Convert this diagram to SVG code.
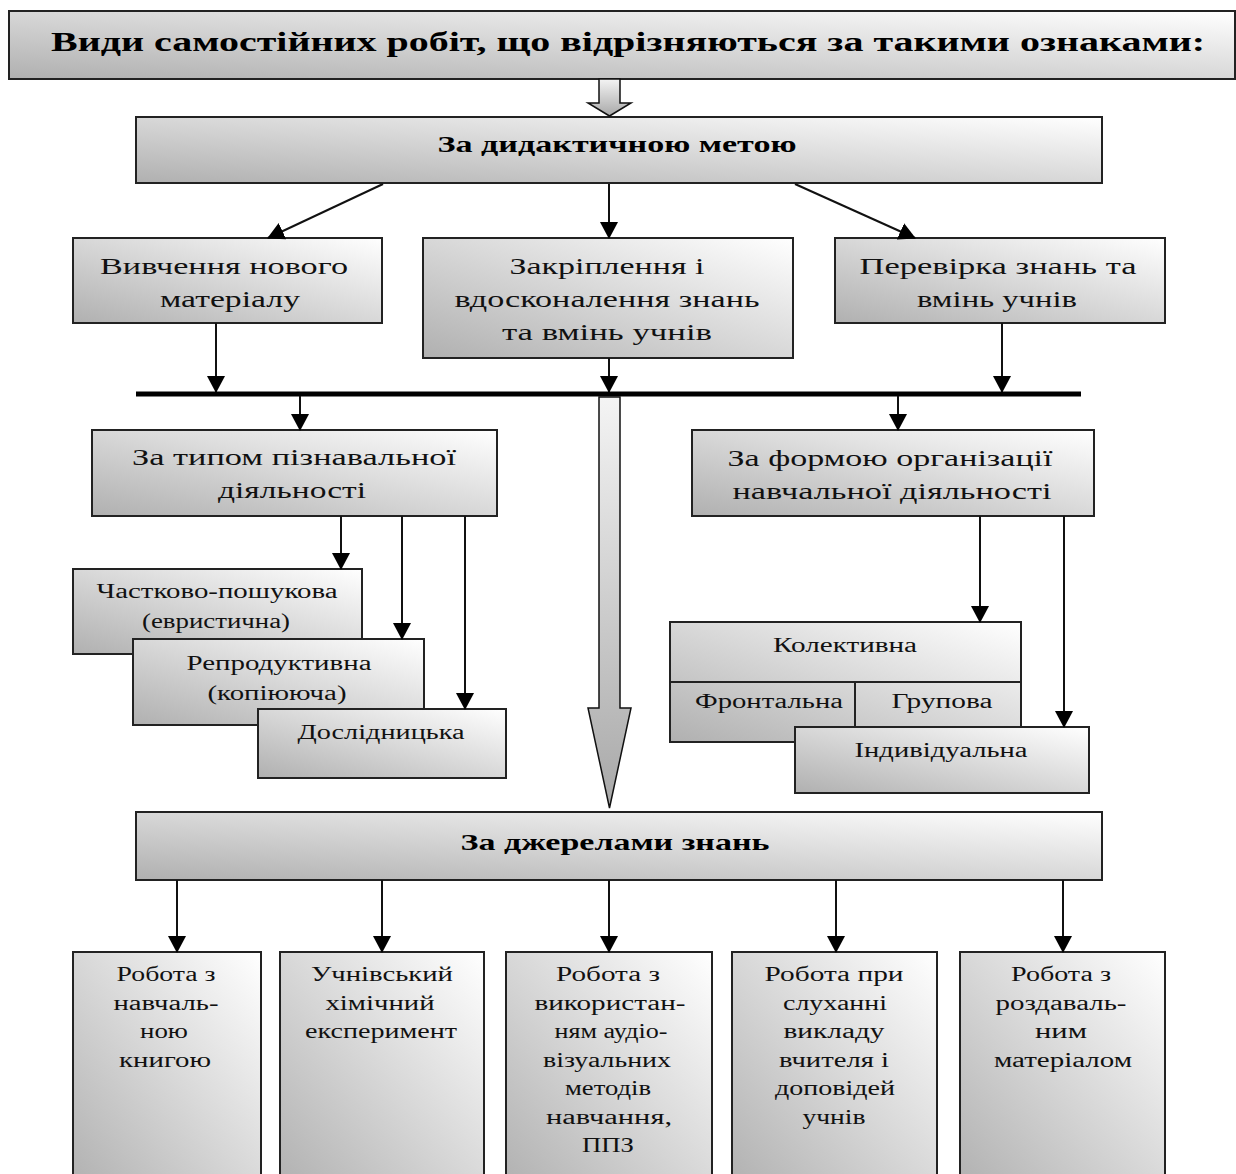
<svg xmlns="http://www.w3.org/2000/svg" width="1236" height="1174" viewBox="0 0 1236 1174">
<style>
.box{stroke:#222;stroke-width:2;fill:url(#g)}
.t{font-family:"Liberation Serif","Times New Roman",serif;font-size:23px;fill:#111;text-anchor:middle}
.s{font-family:"Liberation Serif","Times New Roman",serif;font-size:20px;fill:#111;text-anchor:middle}
.b{font-family:"Liberation Serif","Times New Roman",serif;font-weight:bold;fill:#000;text-anchor:middle}
.c{stroke:#111;stroke-width:2;fill:none;marker-end:url(#ah)}
.bus{stroke:#000;stroke-width:5}
.hollow{stroke:#111;stroke-width:1.5;fill:url(#ga)}
</style>
<defs>
<linearGradient id="g" x1="0" y1="1" x2="1" y2="0">
<stop offset="0" stop-color="#b0b0b0"/>
<stop offset="1" stop-color="#ffffff"/>
</linearGradient>
<linearGradient id="ga" x1="0" y1="0" x2="0" y2="1">
<stop offset="0" stop-color="#f4f4f4"/>
<stop offset="1" stop-color="#a8a8a8"/>
</linearGradient>
<marker id="ah" markerUnits="userSpaceOnUse" markerWidth="17" markerHeight="18" viewBox="0 0 17 18" refX="16" refY="9" orient="auto">
<path d="M0,0 L17,9 L0,18 z" fill="#000"/>
</marker>
</defs>

<g id="title">
<rect class="box" x="9" y="11" width="1226" height="68"/>
<text class="b" x="628" y="51" font-size="28" textLength="1154" lengthAdjust="spacingAndGlyphs">Види самостійних робіт, що відрізняються за такими ознаками:</text>
</g>

<g id="didactic">
<rect class="box" x="136" y="117" width="966" height="66"/>
<text class="b" x="617" y="152" font-size="23" textLength="359" lengthAdjust="spacingAndGlyphs">За дидактичною метою</text>
</g>

<g id="study">
<rect class="box" x="73" y="238" width="309" height="85"/>
<text class="t" x="224" y="274" textLength="248" lengthAdjust="spacingAndGlyphs">Вивчення нового</text>
<text class="t" x="230" y="307" textLength="140" lengthAdjust="spacingAndGlyphs">матеріалу</text>
</g>

<g id="consolidation">
<rect class="box" x="423" y="238" width="370" height="120"/>
<text class="t" x="607" y="274" textLength="195" lengthAdjust="spacingAndGlyphs">Закріплення і</text>
<text class="t" x="607" y="307" textLength="305" lengthAdjust="spacingAndGlyphs">вдосконалення знань</text>
<text class="t" x="607" y="340" textLength="210" lengthAdjust="spacingAndGlyphs">та вмінь учнів</text>
</g>

<g id="check">
<rect class="box" x="835" y="238" width="330" height="85"/>
<text class="t" x="998" y="274" textLength="277" lengthAdjust="spacingAndGlyphs">Перевірка знань та</text>
<text class="t" x="997" y="307" textLength="160" lengthAdjust="spacingAndGlyphs">вмінь учнів</text>
</g>

<g id="cognitive">
<rect class="box" x="92" y="430" width="405" height="86"/>
<text class="t" x="294" y="465" textLength="324" lengthAdjust="spacingAndGlyphs">За типом пізнавальної</text>
<text class="t" x="292" y="498" textLength="148" lengthAdjust="spacingAndGlyphs">діяльності</text>
</g>

<g id="form">
<rect class="box" x="692" y="430" width="402" height="86"/>
<text class="t" x="890" y="466" textLength="325" lengthAdjust="spacingAndGlyphs">За формою організації</text>
<text class="t" x="892" y="499" textLength="319" lengthAdjust="spacingAndGlyphs">навчальної діяльності</text>
</g>

<g id="partial">
<rect class="box" x="73" y="569" width="289" height="85"/>
<text class="s" x="217" y="598" textLength="241" lengthAdjust="spacingAndGlyphs">Частково-пошукова</text>
<text class="s" x="216" y="628" textLength="148" lengthAdjust="spacingAndGlyphs">(евристична)</text>
</g>

<g id="reproductive">
<rect class="box" x="133" y="639" width="291" height="86"/>
<text class="s" x="279" y="670" textLength="185" lengthAdjust="spacingAndGlyphs">Репродуктивна</text>
<text class="s" x="277" y="700" textLength="139" lengthAdjust="spacingAndGlyphs">(копіююча)</text>
</g>

<g id="research">
<rect class="box" x="258" y="709" width="248" height="69"/>
<text class="s" x="381" y="739" textLength="167" lengthAdjust="spacingAndGlyphs">Дослідницька</text>
</g>

<g id="collective">
<rect class="box" x="670" y="622" width="351" height="120"/>
<line x1="670" y1="682" x2="1021" y2="682" stroke="#222" stroke-width="2"/>
<line x1="855" y1="682" x2="855" y2="742" stroke="#222" stroke-width="2"/>
<text class="s" x="845" y="652" textLength="144" lengthAdjust="spacingAndGlyphs">Колективна</text>
<text class="s" x="769" y="708" textLength="148" lengthAdjust="spacingAndGlyphs">Фронтальна</text>
<text class="s" x="942" y="708" textLength="101" lengthAdjust="spacingAndGlyphs">Групова</text>
</g>

<g id="individual">
<rect class="box" x="795" y="727" width="294" height="66"/>
<text class="s" x="941" y="757" textLength="173" lengthAdjust="spacingAndGlyphs">Індивідуальна</text>
</g>

<g id="sources">
<rect class="box" x="136" y="812" width="966" height="68"/>
<text class="b" x="615" y="850" font-size="23" textLength="309" lengthAdjust="spacingAndGlyphs">За джерелами знань</text>
</g>

<g id="book">
<rect class="box" x="73" y="952" width="188" height="240"/>
<text class="s" x="166" y="981" textLength="99" lengthAdjust="spacingAndGlyphs">Робота з</text>
<text class="s" x="166" y="1009.5" textLength="105" lengthAdjust="spacingAndGlyphs">навчаль-</text>
<text class="s" x="164" y="1038" textLength="48" lengthAdjust="spacingAndGlyphs">ною</text>
<text class="s" x="165" y="1066.5" textLength="92" lengthAdjust="spacingAndGlyphs">книгою</text>
</g>

<g id="experiment">
<rect class="box" x="280" y="952" width="204" height="240"/>
<text class="s" x="382" y="981" textLength="142" lengthAdjust="spacingAndGlyphs">Учнівський</text>
<text class="s" x="380" y="1009.5" textLength="109" lengthAdjust="spacingAndGlyphs">хімічний</text>
<text class="s" x="381" y="1038" textLength="152" lengthAdjust="spacingAndGlyphs">експеримент</text>
</g>

<g id="audiovisual">
<rect class="box" x="506" y="952" width="206" height="240"/>
<text class="s" x="608" y="981" textLength="104" lengthAdjust="spacingAndGlyphs">Робота з</text>
<text class="s" x="610" y="1009.5" textLength="151" lengthAdjust="spacingAndGlyphs">використан-</text>
<text class="s" x="611" y="1038" textLength="113" lengthAdjust="spacingAndGlyphs">ням аудіо-</text>
<text class="s" x="607" y="1066.5" textLength="128" lengthAdjust="spacingAndGlyphs">візуальних</text>
<text class="s" x="608" y="1095" textLength="86" lengthAdjust="spacingAndGlyphs">методів</text>
<text class="s" x="609" y="1123.5" textLength="126" lengthAdjust="spacingAndGlyphs">навчання,</text>
<text class="s" x="608" y="1152" textLength="52" lengthAdjust="spacingAndGlyphs">ППЗ</text>
</g>

<g id="listening">
<rect class="box" x="732" y="952" width="205" height="240"/>
<text class="s" x="834" y="981" textLength="139" lengthAdjust="spacingAndGlyphs">Робота при</text>
<text class="s" x="835" y="1009.5" textLength="104" lengthAdjust="spacingAndGlyphs">слуханні</text>
<text class="s" x="834" y="1038" textLength="101" lengthAdjust="spacingAndGlyphs">викладу</text>
<text class="s" x="834" y="1066.5" textLength="110" lengthAdjust="spacingAndGlyphs">вчителя і</text>
<text class="s" x="835" y="1095" textLength="120" lengthAdjust="spacingAndGlyphs">доповідей</text>
<text class="s" x="834" y="1123.5" textLength="63" lengthAdjust="spacingAndGlyphs">учнів</text>
</g>

<g id="handout">
<rect class="box" x="960" y="952" width="205" height="240"/>
<text class="s" x="1061" y="981" textLength="100" lengthAdjust="spacingAndGlyphs">Робота з</text>
<text class="s" x="1061" y="1009.5" textLength="131" lengthAdjust="spacingAndGlyphs">роздаваль-</text>
<text class="s" x="1061" y="1038" textLength="52" lengthAdjust="spacingAndGlyphs">ним</text>
<text class="s" x="1063" y="1066.5" textLength="138" lengthAdjust="spacingAndGlyphs">матеріалом</text>
</g>

<g id="connectors">
<path class="hollow" d="M599,79 L620,79 L620,103 L631,103 L609.5,116 L588,103 L599,103 Z"/>
<line class="c" x1="383" y1="184" x2="268" y2="238"/>
<line class="c" x1="609" y1="184" x2="609" y2="238"/>
<line class="c" x1="795" y1="184" x2="915" y2="238"/>
<line class="c" x1="216" y1="323" x2="216" y2="392"/>
<line class="c" x1="609" y1="358" x2="609" y2="392"/>
<line class="c" x1="1002" y1="323" x2="1002" y2="392"/>
<line class="bus" x1="136" y1="394" x2="1081" y2="394"/>
<line class="c" x1="300" y1="396" x2="300" y2="430"/>
<line class="c" x1="898" y1="396" x2="898" y2="430"/>
<path class="hollow" d="M599,397 L620,397 L620,708 L631,708 L609.5,808 L588,708 L599,708 Z"/>
<line class="c" x1="341" y1="516" x2="341" y2="569"/>
<line class="c" x1="402" y1="516" x2="402" y2="639"/>
<line class="c" x1="465" y1="516" x2="465" y2="709"/>
<line class="c" x1="980" y1="516" x2="980" y2="622"/>
<line class="c" x1="1064" y1="516" x2="1064" y2="727"/>
<line class="c" x1="177" y1="880" x2="177" y2="952"/>
<line class="c" x1="382" y1="880" x2="382" y2="952"/>
<line class="c" x1="609" y1="880" x2="609" y2="952"/>
<line class="c" x1="836" y1="880" x2="836" y2="952"/>
<line class="c" x1="1063" y1="880" x2="1063" y2="952"/>
</g>
</svg>
